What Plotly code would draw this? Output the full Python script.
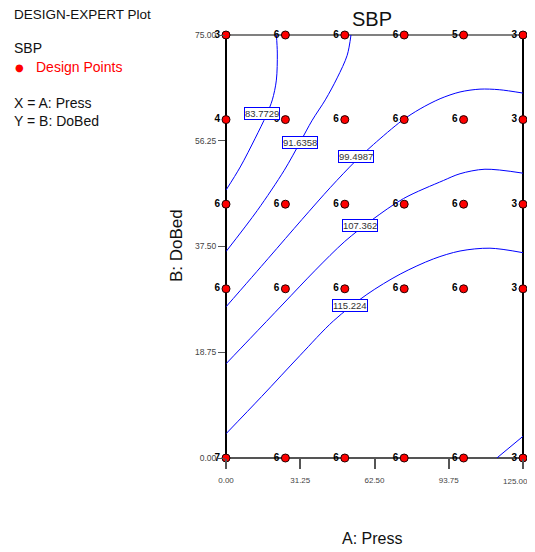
import plotly.graph_objects as go

# ---------------- data ----------------
x_levels = [0, 25, 50, 75, 100, 125]
y_levels = [0, 30, 45, 60, 75]
# replicate counts per design point, row by row (y level) and column (x level)
counts = {
    75: [3, 6, 6, 6, 5, 3],
    60: [4, 6, 6, 6, 6, 3],
    45: [6, 6, 6, 6, 6, 3],
    30: [6, 6, 6, 6, 6, 3],
    0:  [7, 6, 6, 6, 6, 3],
}

x_tickvals = [0, 31.25, 62.5, 93.75, 125]
x_ticktext = ["0.00", "31.25", "62.50", "93.75", "125.00"]
y_tickvals = [0, 18.75, 37.5, 56.25, 75]
y_ticktext = ["0.00", "18.75", "37.50", "56.25", "75.00"]

# contour lines of SBP
c1_x = [21.2, 21.6, 21.2, 19.5, 17.0, 12.3, 6.0, 0.0]
c1_y = [75.0, 71.8, 67.0, 63.5, 60.8, 56.7, 51.6, 47.5]
c2_x = [52.6, 51.0, 46.8, 41.8, 36.3, 31.2, 24.5, 13.2, 0.0]
c2_y = [75.0, 71.4, 67.4, 63.5, 59.9, 56.0, 51.0, 43.9, 36.6]
c3_x = [125, 115, 106.9, 98.5, 90.1, 81.7, 74.0, 62.1, 54.4, 44.0, 32.0, 17.8, 0]
c3_y = [64.7, 65.3, 65.4, 64.9, 63.7, 61.9, 59.8, 55.6, 52.6, 48.0, 42.3, 35.4, 26.8]
c4_x = [125, 109.0, 98.5, 91.5, 74.7, 61.4, 50.0, 37.6, 24.0, 10.2, 0]
c4_y = [50.5, 51.2, 50.4, 49.2, 46.0, 42.2, 38.4, 33.3, 27.3, 21.2, 16.7]
c5_x = [125, 111.1, 98.5, 87.3, 73.3, 59.3, 45.2, 31.2, 15.0, 0]
c5_y = [36.4, 37.2, 36.7, 35.3, 32.6, 29.0, 24.3, 18.2, 10.9, 4.3]
c6_x = [114.0, 125]
c6_y = [0, 3.85]

contour_levels = ["83.7729", "91.6358", "99.4987", "107.362", "115.224"]
label_x = [15.0, 31.2, 54.6, 56.3, 52.3]
label_y = [61.0, 55.9, 53.4, 41.3, 27.1]

# ---------------- figure ----------------
fig = go.Figure()

for cx, cy in [(c1_x, c1_y), (c2_x, c2_y), (c3_x, c3_y), (c4_x, c4_y), (c5_x, c5_y), (c6_x, c6_y)]:
    fig.add_trace(go.Scatter(x=cx, y=cy, mode="lines",
                             line=dict(color="#0000FF", width=1, shape="spline", smoothing=0.9),
                             hoverinfo="skip", showlegend=False, cliponaxis=True))

px, py, pt = [], [], []
for yv in y_levels:
    for xv, n in zip(x_levels, counts[yv]):
        px.append(xv)
        py.append(yv)
        pt.append(str(n))

fig.add_trace(go.Scatter(
    x=px, y=py, mode="markers+text", text=pt, textposition="middle left",
    textfont=dict(family="Liberation Sans, Arial", size=10, color="black", weight="bold"),
    marker=dict(color="#FF0000", size=8, line=dict(color="#200000", width=1)),
    cliponaxis=False, showlegend=False, hoverinfo="skip"))

# plot area in reference-picture pixels (page has an 8px body margin)
OFF = 8
W0, W1, T, B = 226, 523, 35, 458
FIG_W, FIG_H = 527, 544


def pxx(p):
    return (p - W0) / (W1 - W0)


def pxy(p):
    return (B - p) / (B - T)


annotations = []
for lx, ly, lt in zip(label_x, label_y, contour_levels):
    annotations.append(dict(x=lx, y=ly, xref="x", yref="y", text=lt, showarrow=False,
                            font=dict(family="Liberation Sans, Arial", size=9.5, color="#333333"),
                            bgcolor="white", bordercolor="#0000FF", borderwidth=1, borderpad=0))

lf = dict(family="Liberation Sans, Arial", size=14, color="#111111")
for txt, y, col, x, sz in [("DESIGN-EXPERT Plot", 14, "#111111", 12, 13.5),
                           ("SBP", 48, "#111111", 12, 14),
                           ("Design Points", 67, "#FF0000", 34, 14),
                           ("X = A: Press", 103, "#111111", 12, 14),
                           ("Y = B: DoBed", 121, "#111111", 12, 14)]:
    annotations.append(dict(x=pxx(x), y=pxy(y), xref="paper", yref="paper", text=txt,
                            showarrow=False, xanchor="left", yanchor="middle",
                            font=dict(lf, color=col, size=sz)))
annotations.append(dict(x=pxx(19), y=pxy(67), xref="paper", yref="paper", text="●",
                        showarrow=False, xanchor="center", yanchor="middle",
                        font=dict(family="DejaVu Sans", size=10, color="#FF0000")))

# last x tick label placed so that it stays inside the visible page
annotations.append(dict(x=pxx(530), y=pxy(481), xref="paper", yref="paper", text=x_ticktext[-1],
                        showarrow=False, xanchor="right", yanchor="middle",
                        font=dict(family="Liberation Sans, Arial", size=8, color="#444444")))

annotations.append(dict(x=pxx(372), y=pxy(19), xref="paper", yref="paper", text="SBP",
                        showarrow=False, xanchor="center", yanchor="middle",
                        font=dict(family="Liberation Sans, Arial", size=20, color="#111111")))
annotations.append(dict(x=pxx(372), y=pxy(538), xref="paper", yref="paper", text="A: Press",
                        showarrow=False, xanchor="center", yanchor="middle",
                        font=dict(family="Liberation Sans, Arial", size=16, color="#111111")))
annotations.append(dict(x=pxx(176), y=pxy(246), xref="paper", yref="paper", text="B: DoBed",
                        showarrow=False, xanchor="center", yanchor="middle", textangle=-90,
                        font=dict(family="Liberation Sans, Arial", size=17, color="#111111")))

shapes = [
    dict(type="line", xref="paper", yref="paper", x0=0, x1=0, y0=0, y1=1, line=dict(color="black", width=2), layer="below"),
    dict(type="line", xref="paper", yref="paper", x0=1, x1=1, y0=0, y1=1, line=dict(color="black", width=2), layer="below"),
    dict(type="line", xref="paper", yref="paper", x0=0, x1=1, y0=1, y1=1, line=dict(color="#808080", width=2), layer="below"),
    dict(type="line", xref="paper", yref="paper", x0=0, x1=1, y0=0, y1=0, line=dict(color="#555555", width=2), layer="below"),
]

fig.update_layout(
    width=FIG_W, height=FIG_H,
    margin=dict(l=W0 - OFF, r=FIG_W - (W1 - OFF), t=T - OFF, b=FIG_H - (B - OFF)),
    paper_bgcolor="white", plot_bgcolor="white",
    showlegend=False,
    annotations=annotations, shapes=shapes,
    xaxis=dict(range=[0, 125], showgrid=False, zeroline=False, showline=False,
               tickvals=x_tickvals, ticktext=x_ticktext[:-1] + [""], ticks="outside", ticklen=10,
               tickcolor="#555555", tickwidth=2, ticklabelstandoff=4, automargin=False,
               tickfont=dict(family="Liberation Sans, Arial", size=8, color="#444444")),
    yaxis=dict(range=[0, 75], showgrid=False, zeroline=False, showline=False,
               tickvals=y_tickvals, ticktext=y_ticktext, ticks="outside", ticklen=7,
               tickcolor="#555555", tickwidth=1, automargin=False,
               tickfont=dict(family="Liberation Sans, Arial", size=8.5, color="#444444")),
)

fig.write_html("out.html")
